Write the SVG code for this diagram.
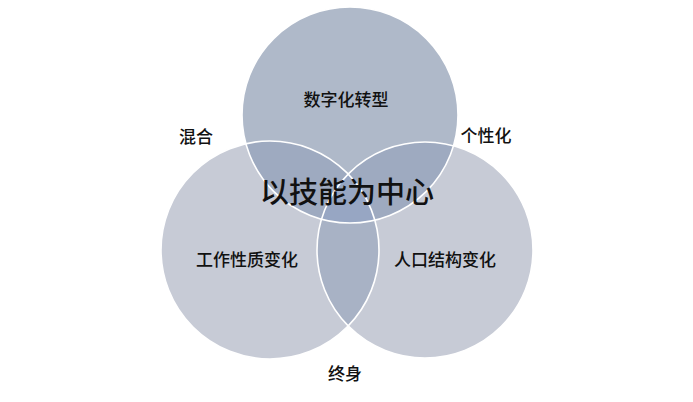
<svg xmlns="http://www.w3.org/2000/svg" width="693" height="402" viewBox="0 0 693 402">
<style>
text{font-family:"Noto Sans CJK SC","Noto Sans",sans-serif;fill:#111;text-anchor:middle;dominant-baseline:central;font-weight:500}
.lbl{font-size:17px}
.big{font-size:29px}
.ring{fill:none;stroke:#fff;stroke-width:1.6}
</style>
<defs>
<clipPath id="cT"><circle cx="350" cy="115" r="108"/></clipPath>
<clipPath id="cL"><circle cx="270" cy="250" r="109"/></clipPath>
<clipPath id="cR"><circle cx="425" cy="250" r="108"/></clipPath>
</defs>
<rect width="693" height="402" fill="#fff"/>
<g id="node-top"><circle cx="350" cy="115" r="108" fill="#afb9c9"/></g>
<g id="node-left"><circle cx="270" cy="250" r="109" fill="#c7cbd6"/></g>
<g id="node-right"><circle cx="425" cy="250" r="108" fill="#c7cbd6"/></g>
<g id="overlaps">
<g clip-path="url(#cT)"><circle cx="270" cy="250" r="109" fill="#9eaac0"/><circle cx="425" cy="250" r="108" fill="#9eaac0"/></g>
<g clip-path="url(#cL)"><circle cx="425" cy="250" r="108" fill="#a8b2c5"/></g>
<g clip-path="url(#cL)"><g clip-path="url(#cR)"><circle cx="350" cy="115" r="108" fill="#97a6c3"/></g></g>
</g>
<g id="connectors">
<circle class="ring" cx="350" cy="115" r="108"/>
<circle class="ring" cx="270" cy="250" r="109"/>
<circle class="ring" cx="425" cy="250" r="108"/>
</g>
<g id="label-top"><text class="lbl" x="346" y="98">数字化转型</text></g>
<g id="label-left"><text class="lbl" x="247" y="258">工作性质变化</text></g>
<g id="label-right"><text class="lbl" x="445" y="258">人口结构变化</text></g>
<g id="label-center"><text class="big" x="347" y="190">以技能为中心</text></g>
<g id="label-hun"><text class="lbl" x="196" y="135">混合</text></g>
<g id="label-ge"><text class="lbl" x="486" y="134">个性化</text></g>
<g id="label-zhong"><text class="lbl" x="345" y="372">终身</text></g>
</svg>
